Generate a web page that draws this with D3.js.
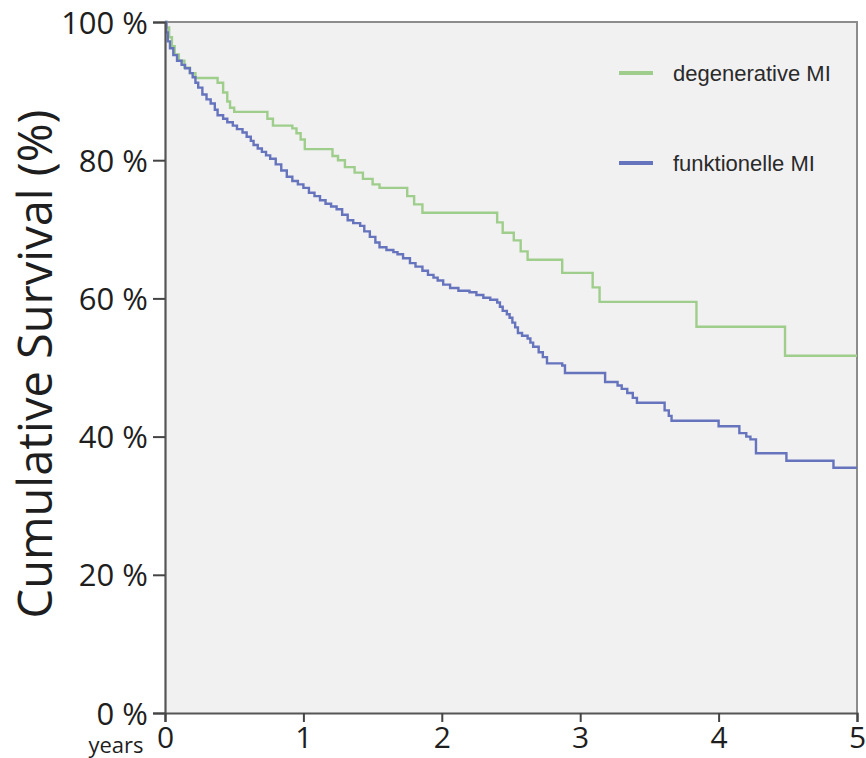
<!DOCTYPE html>
<html>
<head>
<meta charset="utf-8">
<script src="https://cdn.jsdelivr.net/npm/d3@7"></script>
<style>
  body { margin: 0; background: #fff; }
  svg { display: block; }
</style>
</head>
<body>
<div id="chart"></div>
<script>

// Kaplan-Meier steps (years, survival %)
var degTimes = [0, 0.01, 0.03, 0.05, 0.07, 0.10, 0.14, 0.18, 0.22, 0.38, 0.42, 0.45, 0.47, 0.50,
  0.74, 0.78, 0.92, 0.95, 0.98, 1.01, 1.21, 1.25, 1.30, 1.37, 1.43, 1.50, 1.55, 1.75, 1.80, 1.86,
  2.40, 2.44, 2.52, 2.57, 2.62, 2.87, 3.09, 3.14, 3.84, 4.48, 5.0];
var degSurv = [100, 99.2, 97.8, 96.5, 95.3, 94.4, 93.4, 92.6, 91.9, 91.2, 89.8, 88.5, 87.6, 87.0,
  86.0, 85.0, 84.6, 83.9, 83.0, 81.6, 80.6, 80.0, 79.0, 78.2, 77.3, 76.5, 76.0, 74.8, 73.6, 72.4,
  71.0, 69.5, 68.4, 66.8, 65.6, 63.7, 61.6, 59.5, 55.9, 51.7, 51.7];

var funTimes = [0, 0.01, 0.02, 0.036, 0.06, 0.087, 0.12, 0.145, 0.18, 0.20, 0.22, 0.24, 0.27, 0.30,
  0.33, 0.36, 0.38, 0.42, 0.45, 0.49, 0.52, 0.56, 0.59, 0.62, 0.64, 0.67, 0.70, 0.73, 0.76, 0.80,
  0.84, 0.88, 0.92, 0.96, 1.00, 1.04, 1.08, 1.12, 1.16, 1.20, 1.24, 1.28, 1.32, 1.36, 1.41, 1.44,
  1.48, 1.52, 1.55, 1.60, 1.65, 1.68, 1.72, 1.77, 1.81, 1.86, 1.90, 1.94, 1.97, 2.01, 2.06, 2.12,
  2.20, 2.25, 2.30, 2.35, 2.40, 2.42, 2.44, 2.47, 2.49, 2.51, 2.53, 2.55, 2.58, 2.62, 2.64, 2.66,
  2.70, 2.73, 2.76, 2.87, 2.89, 3.18, 3.27, 3.30, 3.34, 3.38, 3.41, 3.61, 3.64, 3.66, 4.00, 4.15,
  4.20, 4.23, 4.27, 4.49, 4.83, 5.0];
var funSurv = [100, 98.5, 97.2, 96.2, 95.2, 94.4, 93.8, 93.3, 92.6, 92.0, 91.2, 90.5, 89.5, 88.8,
  88.2, 87.3, 86.5, 86.0, 85.5, 85.0, 84.5, 84.0, 83.4, 82.8, 82.2, 81.7, 81.2, 80.7, 80.2, 79.4,
  78.5, 77.6, 77.0, 76.5, 76.0, 75.3, 74.8, 74.2, 73.7, 73.3, 72.9, 72.1, 71.3, 70.9, 70.5, 69.7,
  68.9, 68.1, 67.4, 67.0, 66.7, 66.4, 65.8, 65.1, 64.6, 64.0, 63.4, 63.0, 62.6, 62.0, 61.5, 61.1,
  60.9, 60.5, 60.1, 59.8, 59.4, 58.8, 58.2, 57.7, 57.2, 56.5, 55.8, 55.0, 54.6, 54.2, 53.6, 53.0,
  52.2, 51.5, 50.6, 50.3, 49.2, 47.9, 47.4, 46.9, 46.3, 45.6, 44.9, 43.8, 43.0, 42.3, 41.5, 40.5,
  40.0, 39.6, 37.6, 36.5, 35.5, 35.5];

var seriesNames = ["degenerative MI", "funktionelle MI"];
var seriesColors = ["#9fce8c", "#6673bd"];
var yTicks = [0, 20, 40, 60, 80, 100];
var xTicks = [0, 1, 2, 3, 4, 5];

var width = 866, height = 758;
var plotL = 165, plotR = 857, plotT = 22, plotB = 713;

var svg = d3.select("#chart").append("svg")
    .attr("width", width)
    .attr("height", height);

var x = d3.scaleLinear().domain([0, 5]).range([plotL, plotR]);
var y = d3.scaleLinear().domain([0, 100]).range([plotB, plotT]);

// plot background + frame
svg.append("rect")
    .attr("x", plotL).attr("y", plotT)
    .attr("width", plotR - plotL).attr("height", plotB - plotT)
    .attr("fill", "#f1f1f1");
svg.append("path")
    .attr("d", "M" + plotL + "," + plotT + "H" + plotR + "V" + plotB)
    .attr("fill", "none")
    .attr("stroke", "#8c8c8c")
    .attr("stroke-width", 2);

var series = [
  d3.zip(degTimes, degSurv),
  d3.zip(funTimes, funSurv)
];

var line = d3.line()
    .x(function(d) { return x(d[0]); })
    .y(function(d) { return y(d[1]); })
    .curve(d3.curveStepAfter);

svg.append("g")
    .selectAll("path")
    .data(series)
    .enter().append("path")
    .attr("d", line)
    .attr("fill", "none")
    .attr("stroke", function(d, i) { return seriesColors[i]; })
    .attr("stroke-width", 2.4);

// axes
var yAxis = svg.append("g")
    .attr("transform", "translate(" + plotL + ",0)")
    .call(d3.axisLeft(y).tickValues(yTicks).tickSize(12)
      .tickFormat(function(d) { return d + " %"; }));
var xAxis = svg.append("g")
    .attr("transform", "translate(0," + plotB + ")")
    .call(d3.axisBottom(x).tickValues(xTicks).tickSize(9).tickFormat(d3.format("d")));

[yAxis, xAxis].forEach(function(g) {
  g.select(".domain").attr("stroke", "#555").attr("stroke-width", 2.2);
  g.selectAll(".tick line").attr("stroke", "#444").attr("stroke-width", 2);
  g.selectAll("text")
    .attr("fill", "#1e1e1e")
    .style("font-family", "'Open Sans', sans-serif")
    .style("font-size", "31px");
});
yAxis.selectAll("text").attr("x", -17).attr("dy", "0.36em");
xAxis.selectAll("text").attr("y", 11).attr("dy", "0.8em").style("font-size", "30px");

svg.append("text")
    .attr("transform", "translate(52,364) rotate(-90)")
    .attr("text-anchor", "middle")
    .attr("fill", "#1e1e1e")
    .style("font-family", "'Open Sans', sans-serif")
    .style("font-size", "47px")
    .text("Cumulative Survival (%)");

svg.append("text")
    .attr("x", 116).attr("y", 753)
    .attr("text-anchor", "middle")
    .attr("fill", "#1e1e1e")
    .style("font-family", "'Open Sans', sans-serif")
    .style("font-size", "22px")
    .text("years");

// legend
var legend = svg.append("g")
    .selectAll("g")
    .data(seriesNames)
    .enter().append("g")
    .attr("transform", function(d, i) { return "translate(619," + (73 + i * 90) + ")"; });
legend.append("line")
    .attr("x1", 0).attr("x2", 34)
    .attr("stroke", function(d, i) { return seriesColors[i]; })
    .attr("stroke-width", 4);
legend.append("text")
    .attr("x", 54).attr("dy", "0.36em")
    .attr("fill", "#2a2a2a")
    .style("font-family", "'Liberation Sans', Arial, sans-serif")
    .style("font-size", "22px")
    .text(function(d) { return d; });

</script>
</body>
</html>
